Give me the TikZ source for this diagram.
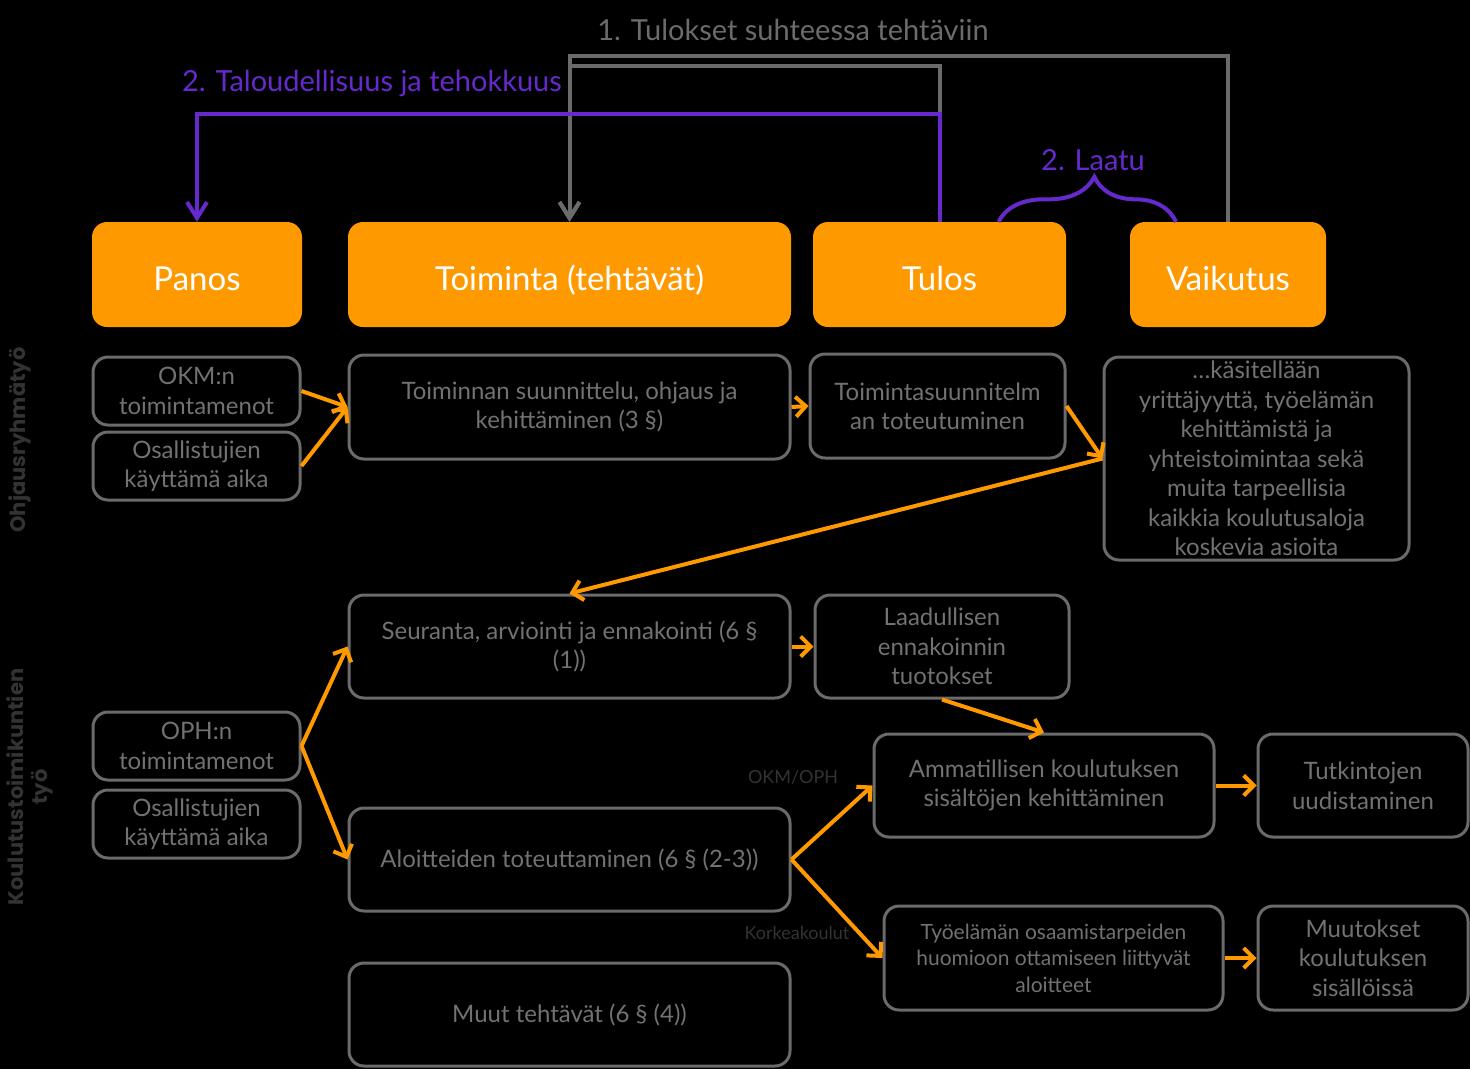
\documentclass[tikz,border=0pt]{standalone}
\usepackage{fontspec}
\setmainfont{Lato}
\newfontfamily\sivufont{Poppins}
\usepackage{tikz}
\usetikzlibrary{arrows.meta}
\usetikzlibrary{positioning}
\usetikzlibrary{decorations.pathreplacing}
\definecolor{oranssi}{HTML}{FF9900}
\definecolor{violetti}{HTML}{6629CC}
\definecolor{harmaa}{HTML}{6B6B6B}
\definecolor{tekstiharmaa}{HTML}{727272}
\definecolor{tumma}{HTML}{333333}
\tikzset{otsikko/.style = {fill = oranssi, rounded corners = 15, text = white, minimum height = 105,
                           inner sep = 0, text height = 31, text depth = 0, font = \fontsize{33}{38}\selectfont}}
\tikzset{laatikko/.style = {draw = harmaa, line width = 3, rounded corners = 15, text = tekstiharmaa,
                            align = center, inner sep = 0, font = \fontsize{24}{29.5}\selectfont}}
\tikzset{nuoli/.style = {draw = oranssi, line width = 4, -{Straight Barb[length = 10, width = 20]}}}
\tikzset{palaute/.style = {line width = 4, -{Straight Barb[length = 16, width = 20]}}}
\tikzset{mittari/.style = {font = \fontsize{29}{34}\selectfont}}
\tikzset{sivu/.style = {rotate = 90, text = tumma, align = center,
                        font = \sivufont\bfseries\fontsize{21}{24}\selectfont}}
\tikzset{pieni/.style = {text = tumma, font = \fontsize{18}{22}\selectfont}}

\begin{document}
\begin{tikzpicture}[x = 1pt, y = -1pt]
    \fill [black] (0, 0) rectangle (1470, 1069);

    \node [otsikko, minimum width = 210] (panos) at (197, 274.5) {Panos};
    \node [otsikko, minimum width = 443] (toiminta) at (569.5, 274.5) {Toiminta (tehtävät)};
    \node [otsikko, minimum width = 253] (tulos) at (939.5, 274.5) {Tulos};
    \node [otsikko, minimum width = 196] (vaikutus) at (1228, 274.5) {Vaikutus};

    \node [laatikko, minimum width = 207, minimum height = 68] (okm) at (196.5, 391) {OKM:n\\toimintamenot};
    \node [laatikko, minimum width = 207, minimum height = 68] (osal1) at (196.5, 466) {Osallistujien\\käyttämä aika};
    \node [laatikko, minimum width = 441, minimum height = 104] (suunn) at (569.5, 407) {Toiminnan suunnittelu, ohjaus ja\\kehittäminen (3 §)};
    \node [laatikko, minimum width = 255, minimum height = 104] (toteut) at (937.5, 406) {Toimintasuunnitelm\\an toteutuminen};
    \node [laatikko, minimum width = 305, minimum height = 203] (kasit) at (1256.5, 458.5)
        {…käsitellään\\yrittäjyyttä, työelämän\\kehittämistä ja\\yhteistoimintaa sekä\\muita tarpeellisia\\kaikkia koulutusaloja\\koskevia asioita};

    \node [laatikko, minimum width = 441, minimum height = 103] (seur) at (569.5, 646.5) {Seuranta, arviointi ja ennakointi (6 §\\(1))};
    \node [laatikko, minimum width = 254, minimum height = 103] (laad) at (942, 646.5) {Laadullisen\\ennakoinnin\\tuotokset};
    \node [laatikko, minimum width = 207, minimum height = 68] (oph) at (196.5, 746) {OPH:n\\toimintamenot};
    \node [laatikko, minimum width = 207, minimum height = 68] (osal2) at (196.5, 824) {Osallistujien\\käyttämä aika};
    \node [laatikko, minimum width = 441, minimum height = 103] (aloit) at (569.5, 859.5) {Aloitteiden toteuttaminen (6 § (2-3))};
    \node [laatikko, minimum width = 441, minimum height = 103] (muut) at (569.5, 1014.5) {Muut tehtävät (6 § (4))};
    \node [laatikko, minimum width = 340, minimum height = 103] (ammat) at (1044, 785.5) {Ammatillisen koulutuksen\\sisältöjen kehittäminen};
    \node [laatikko, minimum width = 210, minimum height = 103] (tutk) at (1363, 785.5) {Tutkintojen\\uudistaminen};
    \node [laatikko, minimum width = 339, minimum height = 104, font = \fontsize{21}{26.5}\selectfont] (tyoel) at (1053.5, 958)
        {Työelämän osaamistarpeiden\\huomioon ottamiseen liittyvät\\aloitteet};
    \node [laatikko, minimum width = 210, minimum height = 104] (muutok) at (1363, 958) {Muutokset\\koulutuksen\\sisällöissä};

    \node [sivu] (ohjaus) at (20, 440) {Ohjausryhmätyö};
    \node [sivu] (toimik) at (30, 787) {Koulutustoimikuntien\\työ};
    \node [pieni] (okmoph) at (793, 777) {OKM/OPH};
    \node [pieni] (korkea) at (797, 933) {Korkeakoulut};

    \node [mittari, text = harmaa] (tulokset) at (793, 30) {1. Tulokset suhteessa tehtäviin};
    \node [mittari, text = violetti] (talous) at (372, 83) {2. Taloudellisuus ja tehokkuus};
    \node [mittari, text = violetti] (laatu) at (1093, 160) {2. Laatu};

    \draw [palaute, harmaa] (vaikutus.north) -- ++(0, -166) -| (toiminta.north);
    \draw [palaute, harmaa] (tulos.north) -- ++(0, -156) -| (toiminta.north);
    \draw [palaute, violetti] (tulos.north) -- ++(0, -108) -| (panos.north);
    \draw [violetti, line width = 4, decorate, decoration = {brace, amplitude = 45, aspect = 0.54}]
        ([xshift = 59]tulos.north) -- ([xshift = -52]vaikutus.north);

    \draw [nuoli] (okm.east) -- (suunn.west);
    \draw [nuoli] (osal1.east) -- (suunn.west);
    \draw [nuoli] (suunn.east) -- (toteut.west);
    \draw [nuoli] (toteut.east) -- (kasit.west);
    \draw [nuoli] (kasit.west) -- (seur.north);
    \draw [nuoli] (oph.east) -- (seur.west);
    \draw [nuoli] (oph.east) -- (aloit.west);
    \draw [nuoli] (seur.east) -- (laad.west);
    \draw [nuoli] (laad.south) -- (ammat.north);
    \draw [nuoli] (aloit.east) -- (ammat.west);
    \draw [nuoli] (aloit.east) -- (tyoel.west);
    \draw [nuoli] (ammat.east) -- (tutk.west);
    \draw [nuoli] (tyoel.east) -- (muutok.west);
\end{tikzpicture}
\end{document}
